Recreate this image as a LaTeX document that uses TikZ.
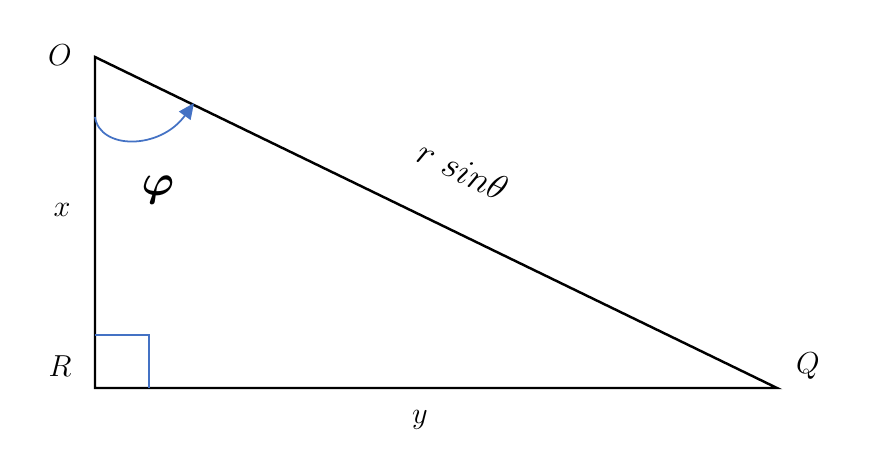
\documentclass[tikz,border=0pt]{standalone}
\usepackage{amsmath,bm}
\usetikzlibrary{arrows.meta}
\definecolor{arcblue}{RGB}{68,114,196}
\begin{document}
\begin{tikzpicture}[>=Stealth,x=0.02cm,y=-0.02cm]
	\tikzset{lbl/.style={font=\fontsize{18}{21}\selectfont}}
	\useasboundingbox (0,0) rectangle (876,466);
	\coordinate (O) at (95,57);
	\coordinate (R) at (95,388);
	\coordinate (Q) at (777,388);
	\coordinate (A) at (95,117);
	\coordinate (B) at (194,103);
	\draw[line width=1.4pt] (O) -- (R) -- (Q) -- cycle;
	\draw[arcblue,line width=0.8pt] (95,335) -- (149,335) -- (149,388);
	\draw[arcblue,line width=1pt,-{Triangle[length=9pt,width=8pt]}] (A) .. controls (100,150) and (160,150) .. (B);
	\node[lbl] (lO) at (60,55) {$O$};
	\node[lbl] (lx) at (62,210) {$x$};
	\node[lbl] (lR) at (60,366) {$R$};
	\node[lbl] (lQ) at (808,366) {$Q$};
	\node[lbl] (ly) at (420,420) {$y$};
	\node[font=\fontsize{21}{25}\selectfont,rotate=-25.9] (ls) at (463,170) {$r\ sin\theta$};
	\node[font=\fontsize{30}{34}\selectfont] (phi) at (158,190) {$\bm{\varphi}$};
\end{tikzpicture}
\end{document}
